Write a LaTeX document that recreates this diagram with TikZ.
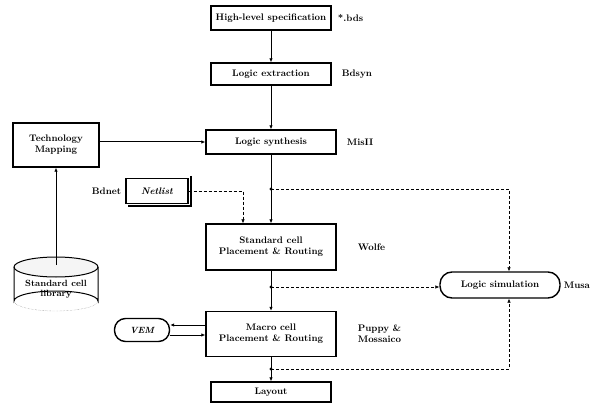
\documentclass[tikz,border=0pt]{standalone}
\usetikzlibrary{arrows.meta,positioning}
\begin{document}
\begin{tikzpicture}[x=1pt,y=-1pt,
  font=\fontsize{9.5}{11}\selectfont\bfseries,
  stage/.style={draw,line width=1.4pt,minimum height=22pt,inner sep=2pt,align=center},
  lbl/.style={inner sep=1pt},
  flow/.style={line width=1pt,-{Latex[length=4pt,width=3.5pt]}},
  sig/.style={line width=0.5pt,dash pattern=on 3pt off 2pt,-{Latex[length=4pt,width=3.5pt]}}]

\newcommand{\midx}{271}
\newcommand{\cylx}{56}

\useasboundingbox (0,0) rectangle (609,411);

% main flow
\node[stage,minimum width=120pt,minimum height=24pt] (spec) at (\midx,18) {High-level specification};
\node[stage,minimum width=120pt] (extract) at (\midx,74) {Logic extraction};
\node[stage,minimum width=130pt,minimum height=24pt] (synth) at (\midx,142) {Logic synthesis};
\node[stage,minimum width=130pt,minimum height=46pt] (std) at (\midx,247) {Standard cell\\Placement \& Routing};
\node[stage,minimum width=130pt,minimum height=45pt] (macro) at (\midx,334) {Macro cell\\Placement \& Routing};
\node[stage,minimum width=120pt,minimum height=20pt] (layout) at (\midx,392) {Layout};

\node[lbl,right=5pt of spec] (specl) {*.bds};
\node[lbl,right=9pt of extract] (extractl) {Bdsyn};
\node[lbl,right=9pt of synth] (synthl) {MisII};
\node[lbl,right=20pt of std] (stdl) {Wolfe};
\node[lbl,right=20pt of macro,align=left] (macrol) {Puppy \&\\Mossaico};

% left side
\node[stage,minimum width=86pt,minimum height=44pt] (tech) at (\cylx,145) {Technology\\Mapping};
\node[stage,minimum width=62pt,minimum height=25pt,font=\fontsize{9.5}{11}\selectfont\bfseries\itshape] (netlist) at (157,191) {Netlist};
\draw[line width=1.8pt] ([shift={(2pt,2pt)}]netlist.north east) -- ([shift={(2pt,-2pt)}]netlist.south east) -- ([shift={(3pt,-2pt)}]netlist.south west);
\node[lbl,left=3pt of netlist] (netlistl) {Bdnet};

\node[stage,rounded corners=11pt,minimum width=55pt,minimum height=23pt,font=\fontsize{9}{11}\selectfont\bfseries\itshape] (vem) at (142,330) {VEM};

% library cylinder
\fill[gray!8] (\cylx,267) ellipse (42 and 10);
\draw[line width=1pt] (\cylx-42,267) -- (\cylx-42,301) arc (180:360:42 and 10) -- (\cylx+42,267);
\draw[line width=1pt] (\cylx,267) ellipse (42 and 10);
\draw[densely dotted,gray] (\cylx-42,301) arc (180:0:42 and 10);
\node[align=center,font=\fontsize{9}{10}\selectfont\bfseries] (lib) at (\cylx,289) {Standard cell\\library};
\coordinate (libtop) at (\cylx,265);

\node[stage,rounded corners=12pt,minimum width=120pt,minimum height=26pt] (sim) at (500,285) {Logic simulation};
\node[lbl,right=2pt of sim] (siml) {Musa};

% solid connectors
\draw[flow] (spec) -- (extract);
\draw[flow] (extract) -- (synth);
\draw[flow] (synth) -- (std);
\draw[flow] (std) -- (macro);
\draw[flow] (macro) -- (layout);
\draw[flow] (tech.east |- synth) -- (synth.west);
\draw[flow] (libtop) -- (tech);

\coordinate (vemin) at ([yshift=5pt]vem.east);
\coordinate (vemout) at ([yshift=-5pt]vem.east);
\draw[flow] (macro.west |- vemin) -- (vemin);
\draw[flow] (vemout) -- (macro.west |- vemout);

% branches to simulation
\coordinate (br1) at (\midx,189);
\coordinate (br2) at (\midx,287);
\coordinate (br3) at (\midx,369);
\foreach \b in {br1,br2,br3} \fill (\b) circle (1.7pt);

\draw[sig] (br1) -| ([xshift=9pt]sim.north);
\draw[sig] (br2) -- (br2 -| sim.west);
\draw[sig] (br3) -| ([xshift=9pt]sim.south);
\draw[sig] (netlist.east) -| ([xshift=-28pt]std.north);

\end{tikzpicture}
\end{document}
